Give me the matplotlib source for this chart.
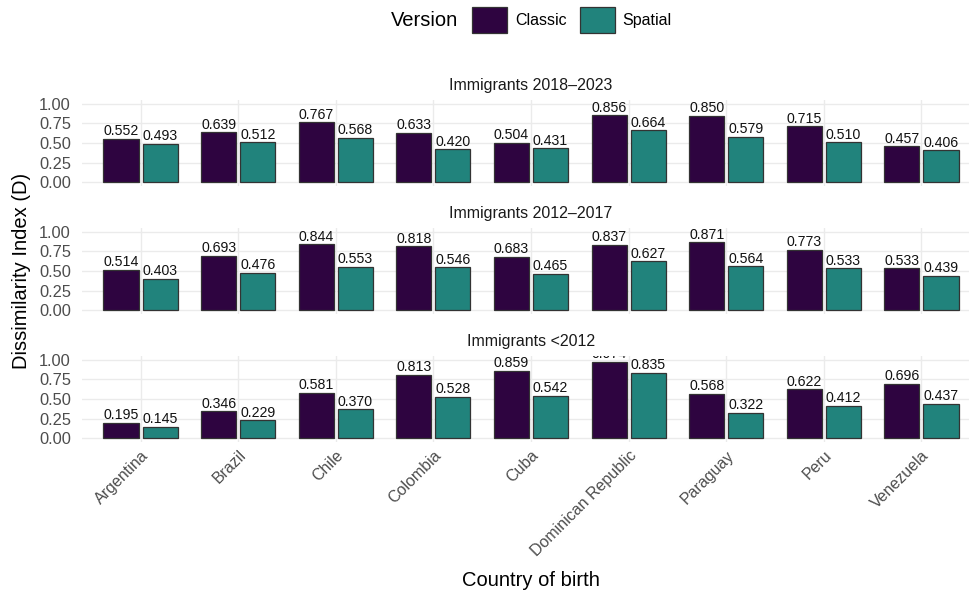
import numpy as np
import matplotlib
matplotlib.use("Agg")
import matplotlib.pyplot as plt
from matplotlib.patches import Patch

plt.rcParams['font.family'] = ['Liberation Sans', 'DejaVu Sans']

# data
countries = ["Argentina", "Brazil", "Chile", "Colombia", "Cuba",
             "Dominican Republic", "Paraguay", "Peru", "Venezuela"]
periods = ["Immigrants 2018\u20132023", "Immigrants 2012\u20132017", "Immigrants <2012"]

classic_2018 = [0.552, 0.639, 0.767, 0.633, 0.504, 0.856, 0.850, 0.715, 0.457]
spatial_2018 = [0.493, 0.512, 0.568, 0.420, 0.431, 0.664, 0.579, 0.510, 0.406]
classic_2012 = [0.514, 0.693, 0.844, 0.818, 0.683, 0.837, 0.871, 0.773, 0.533]
spatial_2012 = [0.403, 0.476, 0.553, 0.546, 0.465, 0.627, 0.564, 0.533, 0.439]
classic_pre = [0.195, 0.346, 0.581, 0.813, 0.859, 0.974, 0.568, 0.622, 0.696]
spatial_pre = [0.145, 0.229, 0.370, 0.528, 0.542, 0.835, 0.322, 0.412, 0.437]

classic_vals = [classic_2018, classic_2012, classic_pre]
spatial_vals = [spatial_2018, spatial_2012, spatial_pre]

c_classic = "#2E0440"
c_spatial = "#21837C"
grid_col = "#EBEBEB"
tick_col = "#4D4D4D"

W, H = 969, 596
fig = plt.figure(figsize=(W / 100, H / 100), dpi=100)

# panel boxes in pixels (left, top, right, bottom)
left_px, right_px = 82, 980
panel_tops = [100, 228, 356]
panel_h = 86

x = np.arange(len(countries))
bw = 0.36
off = 0.2

axes = []
for i, period in enumerate(periods):
    top = panel_tops[i]
    ax = fig.add_axes([left_px / W, 1 - (top + panel_h) / H,
                       (right_px - left_px) / W, panel_h / H])
    axes.append(ax)
    ax.set_axisbelow(True)
    ax.grid(True, color=grid_col, lw=1.0)
    for s in ax.spines.values():
        s.set_visible(False)
    ax.tick_params(axis="y", length=0, labelsize=11.8, labelcolor=tick_col, pad=8)
    ax.tick_params(axis="x", length=0, labelsize=11.5, labelcolor=tick_col, pad=4)

    cv = classic_vals[i]
    sv = spatial_vals[i]
    ax.bar(x - off, cv, width=bw, color=c_classic, edgecolor="#333333", lw=0.9)
    ax.bar(x + off, sv, width=bw, color=c_spatial, edgecolor="#333333", lw=0.9)
    for xi, v in zip(x, cv):
        ax.text(xi - off, v + 0.006, f"{v:.3f}", ha="center", va="bottom",
                fontsize=10.2, color="#111111", clip_on=True)
    for xi, v in zip(x, sv):
        ax.text(xi + off, v + 0.006, f"{v:.3f}", ha="center", va="bottom",
                fontsize=10.2, color="#111111", clip_on=True)

    ax.set_xlim(-0.6, len(countries) - 0.4)
    ax.set_ylim(-0.05, 1.05)
    ax.set_yticks([0, 0.25, 0.5, 0.75, 1.0])
    ax.set_yticklabels(["0.00", "0.25", "0.50", "0.75", "1.00"])
    ax.set_xticks(x)
    if i < 2:
        ax.set_xticklabels([])
    else:
        ax.set_xticklabels(countries, rotation=45, ha="right",
                           rotation_mode="anchor")
    ax.set_title(period, fontsize=11.5, color="#1A1A1A", pad=7)

fig.text(22 / W, 1 - 271 / H, "Dissimilarity Index (D)", rotation=90,
         ha="center", va="center", fontsize=14.5, color="black")
fig.text(531 / W, 1 - 580 / H, "Country of birth", ha="center", va="center",
         fontsize=14.5, color="black")

# legend on top
handles = [Patch(facecolor=c_classic, edgecolor="#333333", lw=0.9),
           Patch(facecolor=c_spatial, edgecolor="#333333", lw=0.9)]
fig.text(425 / W, 1 - 20 / H, "Version", ha="center", va="center",
         fontsize=14.5)
fig.legend(handles, ["Classic", "Spatial"], ncol=2, frameon=False,
           loc="center", bbox_to_anchor=(572 / W, 1 - 20 / H),
           fontsize=11.5, handlelength=2.2, handleheight=2.2,
           handletextpad=0.5, columnspacing=0.8)

fig.savefig("out.png", dpi=100)
